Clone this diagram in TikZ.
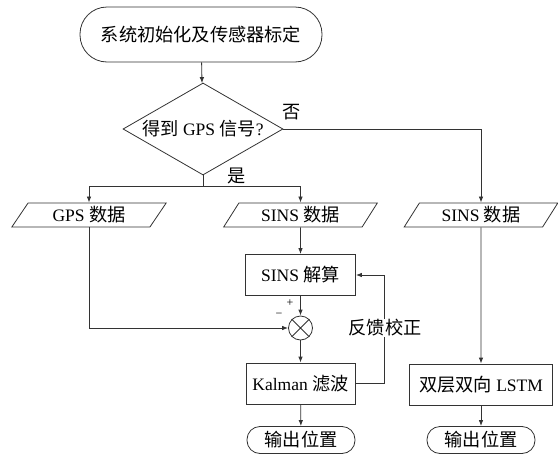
\documentclass[tikz,border=0pt]{standalone}
\usepackage{fontspec}
\setmainfont{Liberation Serif}
\newfontfamily\cjk{Noto Sans CJK SC}[Scale=1.04]
\usetikzlibrary{shapes.geometric,arrows.meta}
\begin{document}
\begin{tikzpicture}[x=1pt,y=-1pt,
  every node/.style={font=\fontsize{17.5}{20}\selectfont, inner sep=0pt},
  ln/.style={draw=black!80, line width=0.8pt},
  arr/.style={ln, -{Latex[length=6pt,width=4.5pt]}},
  box/.style={ln, rectangle, minimum height=41},
  termA/.style={ln, rectangle, rounded corners=27pt, minimum width=242, minimum height=55},
  termB/.style={ln, rectangle, rounded corners=13pt, minimum width=108, minimum height=27},
  para/.style={ln, trapezium, trapezium left angle=60, trapezium right angle=120,
    trapezium stretches=true, minimum width=155, minimum height=24},
  dec/.style={ln, diamond, aspect=1.74, minimum width=160, minimum height=92},
  sumc/.style={ln, circle, minimum size=24},
  small/.style={font=\fontsize{12}{13}\selectfont}
]
\useasboundingbox (0,0) rectangle (558,461);

\node[termA] (start) at (201,34.5) {\cjk 系统初始化及传感器标定};
\node[dec] (dec) at (203,129) {{\cjk 得到} GPS {\cjk 信号}?};
\node (no) at (292,112) {\cjk 否};
\node (yes) at (237,176) {\cjk 是};
\coordinate (split) at (203,186);
\node[para] (gps) at (89,215) {GPS {\cjk 数据}};
\node[para] (sinsA) at (300.5,215) {SINS {\cjk 数据}};
\node[para] (sinsB) at (481,215) {SINS {\cjk 数据}};
\node[box, minimum width=110] (solve) at (300.5,275) {SINS {\cjk 解算}};
\node[sumc] (sum) at (300.5,328) {};
\node[box, minimum width=109] (kal) at (300.5,383.5) {Kalman {\cjk 滤波}};
\node[box, minimum width=143] (lstm) at (481,384.5) {{\cjk 双层双向} LSTM};
\node[termB] (out1) at (301,440) {\cjk 输出位置};
\node[termB] (out2) at (481,440) {\cjk 输出位置};
\node[small] (plus) at (290,303) {+};
\node[small] (minus) at (279,315) {−};

\draw[ln] (sum.north west) -- (sum.south east) (sum.north east) -- (sum.south west);

\draw[arr] (start) -- (dec);
\draw[ln] (dec.south) -- (split);
\draw[arr] (split) -| (gps.north);
\draw[arr] (split) -| (sinsA.north);
\draw[arr] (dec.east) -| (sinsB.north);
\draw[arr] (sinsA) -- (solve);
\draw[arr] (solve) -- (sum);
\draw[arr] (gps.south) |- (sum.west);
\draw[arr] (sum) -- (kal);
\draw[arr] (kal) -- (out1);
\draw[arr] (sinsB) -- (lstm);
\draw[arr] (lstm) -- (out2);

\coordinate (fb1) at (384,383.5);
\coordinate (fb2) at (384,275);
\draw[arr] (kal.east) -- (fb1) -- (fb2) -- (solve.east);
\node[fill=white, inner sep=1pt] (fbl) at (385,328) {\cjk 反馈校正};
\end{tikzpicture}
\end{document}
